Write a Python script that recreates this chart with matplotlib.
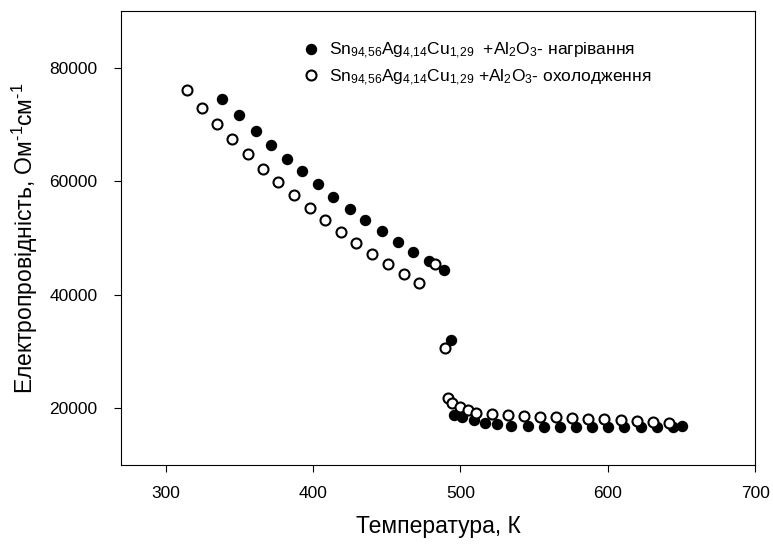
import matplotlib
matplotlib.use("Agg")
import matplotlib.pyplot as plt

plt.rcParams['font.family'] = ['Liberation Sans', 'DejaVu Sans']
plt.rcParams['mathtext.fontset'] = 'custom'
plt.rcParams['mathtext.rm'] = 'Liberation Sans'
plt.rcParams['mathtext.it'] = 'Liberation Sans'

# heating (filled circles)
heat_t = [338.6, 349.9, 361.0, 371.7, 382.2, 392.8, 403.3, 413.8, 424.9, 435.3,
          446.5, 457.4, 467.8, 478.5, 488.9, 493.7, 495.5, 501.0, 509.5, 517.0,
          524.8, 534.5, 545.6, 556.8, 567.4, 578.6, 589.5, 600.4, 611.3, 622.2,
          633.1, 644.0, 650.0]
heat_s = [74510, 71580, 68770, 66320, 63980, 61750, 59420, 57190, 55140, 53210,
          51230, 49350, 47600, 45960, 44380, 31930, 18770, 18370, 17900, 17420,
          17190, 16840, 16840, 16720, 16720, 16610, 16610, 16610, 16610, 16610,
          16720, 16700, 16900]

# cooling (open circles)
cool_t = [314.7, 324.7, 335.1, 345.2, 355.6, 366.3, 376.5, 386.9, 397.8, 408.0,
          418.9, 429.5, 440.3, 450.7, 461.6, 471.9, 482.8, 489.6, 491.8, 494.1,
          500.0, 505.0, 510.7, 521.4, 532.3, 542.9, 553.8, 564.7, 575.9, 586.8,
          597.7, 608.8, 619.5, 630.4, 641.7]
cool_s = [76090, 72980, 70120, 67370, 64790, 62230, 59880, 57540, 55320, 53210,
          51110, 49180, 47190, 45440, 43680, 41980, 45390, 30580, 21880, 20830,
          20230, 19770, 19180, 18900, 18770, 18600, 18480, 18370, 18250, 18130,
          18020, 17900, 17770, 17600, 17320]

comp = r'Sn$_{94{,}56}$Ag$_{4{,}14}$Cu$_{1{,}29}$'
label_heat = comp + r'  +Al$_2$O$_3$- нагрівання'
label_cool = comp + r' +Al$_2$O$_3$- охолодження'

fig = plt.figure(figsize=(7.73, 5.47), dpi=100)
ax = fig.add_axes([0.157, 0.150, 0.820, 0.830])

ax.plot(heat_t, heat_s, 'o', color='black', markersize=7.2, label=label_heat)
ax.plot(cool_t, cool_s, 'o', markerfacecolor='white', markeredgecolor='black',
        markeredgewidth=1.5, markersize=7.2, label=label_cool)

ax.set_xlim(270, 700)
ax.set_ylim(10000, 90000)
ax.set_xticks([300, 400, 500, 600, 700])
ax.set_yticks([20000, 40000, 60000, 80000])
ax.tick_params(direction='out', length=5, labelsize=12.5, top=False, right=False)
ax.tick_params(axis='x', pad=10)
ax.tick_params(axis='y', pad=12)

ax.set_xlabel('Температура, К', fontsize=16.5, labelpad=10)
ax.set_ylabel(r'Електропровідність, Ом$^{\text{-}1}$см$^{\text{-}1}$', fontsize=16.5, labelpad=7)

ax.legend(loc='upper left', bbox_to_anchor=(0.285, 0.934), frameon=False,
          fontsize=12.5, handlelength=1.0, handletextpad=0.55, labelspacing=0.35,
          borderpad=0, borderaxespad=0)

fig.savefig('out.png', dpi=100)
